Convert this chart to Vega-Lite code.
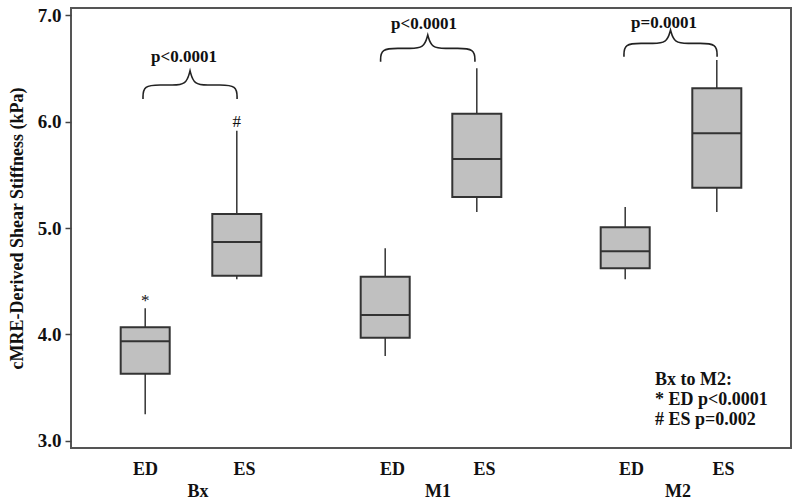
{
  "$schema": "https://vega.github.io/schema/vega-lite/v6.json",
  "width": 720,
  "height": 440,
  "autosize": {"type": "none"},
  "padding": {"left": 71, "top": 8, "right": 9, "bottom": 56},
  "background": "white",
  "config": {
    "view": {"stroke": "#555555", "strokeWidth": 2},
    "font": "Liberation Serif",
    "axis": {"labelFont": "Liberation Serif", "titleFont": "Liberation Serif", "labelFontWeight": "bold", "titleFontWeight": "bold", "labelColor": "#111111", "titleColor": "#111111", "grid": false, "domain": false}
  },
  "datasets": {
    "boxes": [
      {"group": "Bx", "phase": "ED", "min": 3.25, "q1": 3.632, "median": 3.936, "q3": 4.067, "max": 4.246},
      {"group": "Bx", "phase": "ES", "min": 4.518, "q1": 4.552, "median": 4.869, "q3": 5.131, "max": 5.914},
      {"group": "M1", "phase": "ED", "min": 3.798, "q1": 3.97, "median": 4.183, "q3": 4.543, "max": 4.809},
      {"group": "M1", "phase": "ES", "min": 5.15, "q1": 5.291, "median": 5.648, "q3": 6.073, "max": 6.5},
      {"group": "M2", "phase": "ED", "min": 4.518, "q1": 4.622, "median": 4.781, "q3": 5.007, "max": 5.197},
      {"group": "M2", "phase": "ES", "min": 5.15, "q1": 5.378, "median": 5.889, "q3": 6.312, "max": 6.577}
    ],
    "pvals": [
      {"group": "Bx", "label": "p<0.0001", "y": 6.561},
      {"group": "M1", "label": "p<0.0001", "y": 6.866},
      {"group": "M2", "label": "p=0.0001", "y": 6.881}
    ],
    "flags": [
      {"group": "Bx", "phase": "ED", "label": "*", "y": 4.263},
      {"group": "Bx", "phase": "ES", "label": "#", "y": 5.951}
    ],
    "braces": [
      {"brace": "Bx", "i": 0, "u": 0.3, "v": 6.211},
      {"brace": "Bx", "i": 1, "u": 0.3, "v": 6.343},
      {"brace": "Bx", "i": 2, "u": 0.3784, "v": 6.343},
      {"brace": "Bx", "i": 3, "u": 0.4176, "v": 6.343},
      {"brace": "Bx", "i": 4, "u": 0.4803, "v": 6.343},
      {"brace": "Bx", "i": 5, "u": 0.496, "v": 6.477},
      {"brace": "Bx", "i": 6, "u": 0.496, "v": 6.477},
      {"brace": "Bx", "i": 7, "u": 0.496, "v": 6.477},
      {"brace": "Bx", "i": 8, "u": 0.5117, "v": 6.343},
      {"brace": "Bx", "i": 9, "u": 0.5744, "v": 6.343},
      {"brace": "Bx", "i": 10, "u": 0.6136, "v": 6.343},
      {"brace": "Bx", "i": 11, "u": 0.692, "v": 6.343},
      {"brace": "Bx", "i": 12, "u": 0.692, "v": 6.211},
      {"brace": "M1", "i": 0, "u": 1.29, "v": 6.562},
      {"brace": "M1", "i": 1, "u": 1.29, "v": 6.687},
      {"brace": "M1", "i": 2, "u": 1.3686, "v": 6.687},
      {"brace": "M1", "i": 3, "u": 1.4079, "v": 6.687},
      {"brace": "M1", "i": 4, "u": 1.4708, "v": 6.687},
      {"brace": "M1", "i": 5, "u": 1.4865, "v": 6.812},
      {"brace": "M1", "i": 6, "u": 1.4865, "v": 6.812},
      {"brace": "M1", "i": 7, "u": 1.4865, "v": 6.812},
      {"brace": "M1", "i": 8, "u": 1.5022, "v": 6.687},
      {"brace": "M1", "i": 9, "u": 1.5651, "v": 6.687},
      {"brace": "M1", "i": 10, "u": 1.6044, "v": 6.687},
      {"brace": "M1", "i": 11, "u": 1.683, "v": 6.687},
      {"brace": "M1", "i": 12, "u": 1.683, "v": 6.562},
      {"brace": "M2", "i": 0, "u": 2.304, "v": 6.608},
      {"brace": "M2", "i": 1, "u": 2.304, "v": 6.734},
      {"brace": "M2", "i": 2, "u": 2.3816, "v": 6.734},
      {"brace": "M2", "i": 3, "u": 2.4204, "v": 6.734},
      {"brace": "M2", "i": 4, "u": 2.4825, "v": 6.734},
      {"brace": "M2", "i": 5, "u": 2.498, "v": 6.859},
      {"brace": "M2", "i": 6, "u": 2.498, "v": 6.859},
      {"brace": "M2", "i": 7, "u": 2.498, "v": 6.859},
      {"brace": "M2", "i": 8, "u": 2.5135, "v": 6.734},
      {"brace": "M2", "i": 9, "u": 2.5756, "v": 6.734},
      {"brace": "M2", "i": 10, "u": 2.6144, "v": 6.734},
      {"brace": "M2", "i": 11, "u": 2.692, "v": 6.734},
      {"brace": "M2", "i": 12, "u": 2.692, "v": 6.608}
    ],
    "note": [
      {"note": "Bx to M2:\n* ED p<0.0001\n# ES p=0.002"}
    ]
  },
  "layer": [
    {
      "encoding": {
        "x": {"field": "group", "type": "nominal", "sort": ["Bx", "M1", "M2"], "scale": {"paddingInner": 0, "paddingOuter": 0}, "axis": {"orient": "bottom", "title": null, "ticks": false, "labelAngle": 0, "labelFontSize": 18, "labelPadding": 34, "labelOffset": 7}}
      },
      "layer": [
        {
          "data": {"name": "boxes"},
          "mark": {"type": "rule", "color": "#333333", "strokeWidth": 1.5},
          "encoding": {
            "xOffset": {"field": "phase", "type": "nominal", "sort": ["ED", "ES"], "scale": {"paddingInner": 0.465, "paddingOuter": 0.5425}},
            "y": {"field": "min", "type": "quantitative", "scale": {"domain": [2.934, 7.066], "nice": false, "zero": false}, "axis": {"values": [3, 4, 5, 6, 7], "format": ".1f", "title": "cMRE-Derived Shear Stiffness (kPa)", "labelFontSize": 19, "titleFontSize": 18, "tickSize": 6, "tickColor": "#444444", "tickWidth": 1.5, "labelPadding": 4, "titlePadding": 11}},
            "y2": {"field": "q1"}
          }
        },
        {
          "data": {"name": "boxes"},
          "mark": {"type": "rule", "color": "#333333", "strokeWidth": 1.5},
          "encoding": {
            "xOffset": {"field": "phase", "type": "nominal", "sort": ["ED", "ES"]},
            "y": {"field": "q3", "type": "quantitative", "scale": {"domain": [2.934, 7.066], "nice": false, "zero": false}},
            "y2": {"field": "max"}
          }
        },
        {
          "data": {"name": "boxes"},
          "mark": {"type": "bar", "fill": "#c0c0c0", "stroke": "#333333", "strokeWidth": 2},
          "encoding": {
            "xOffset": {"field": "phase", "type": "nominal", "sort": ["ED", "ES"]},
            "y": {"field": "q1", "type": "quantitative", "scale": {"domain": [2.934, 7.066], "nice": false, "zero": false}},
            "y2": {"field": "q3"}
          }
        },
        {
          "data": {"name": "boxes"},
          "mark": {"type": "bar", "fill": "#333333", "stroke": "#333333", "strokeWidth": 2},
          "encoding": {
            "xOffset": {"field": "phase", "type": "nominal", "sort": ["ED", "ES"]},
            "y": {"field": "median", "type": "quantitative", "scale": {"domain": [2.934, 7.066], "nice": false, "zero": false}},
            "y2": {"field": "median"}
          }
        },
        {
          "data": {"name": "flags"},
          "mark": {"type": "text", "fontSize": 17, "fontWeight": "normal", "baseline": "alphabetic", "color": "#111111", "font": "Liberation Serif"},
          "encoding": {
            "xOffset": {"field": "phase", "type": "nominal", "sort": ["ED", "ES"]},
            "y": {"field": "y", "type": "quantitative", "scale": {"domain": [2.934, 7.066], "nice": false, "zero": false}},
            "text": {"field": "label"}
          }
        },
        {
          "data": {"name": "pvals"},
          "mark": {"type": "text", "fontSize": 17, "fontWeight": "bold", "baseline": "alphabetic", "dx": -7, "color": "#111111", "font": "Liberation Serif"},
          "encoding": {
            "y": {"field": "y", "type": "quantitative", "scale": {"domain": [2.934, 7.066], "nice": false, "zero": false}},
            "text": {"field": "label"}
          }
        }
      ]
    },
    {
      "layer": [
        {
          "data": {"name": "braces"},
          "mark": {"type": "line", "interpolate": "basis", "color": "#222222", "strokeWidth": 1.6},
          "encoding": {
            "x": {"field": "u", "type": "quantitative", "scale": {"domain": [0, 3], "nice": false, "zero": false}, "axis": {"orient": "bottom", "values": [0.3083, 0.7208, 1.3375, 1.7208, 2.3333, 2.7167], "labelExpr": "(datum.value % 1) < 0.5 ? 'ED' : 'ES'", "ticks": false, "title": null, "labelFontSize": 18, "labelPadding": 12, "labelFlush": false, "labelOverlap": false}},
            "y": {"field": "v", "type": "quantitative", "scale": {"domain": [2.934, 7.066], "nice": false, "zero": false}},
            "detail": {"field": "brace"},
            "order": {"field": "i"}
          }
        },
        {
          "data": {"name": "note"},
          "mark": {"type": "text", "align": "left", "baseline": "alphabetic", "lineBreak": "\n", "lineHeight": 20, "fontSize": 18, "fontWeight": "bold", "color": "#111111", "font": "Liberation Serif"},
          "encoding": {
            "x": {"datum": 2.433},
            "y": {"datum": 3.526},
            "text": {"field": "note"}
          }
        }
      ]
    }
  ],
  "resolve": {"scale": {"x": "independent"}, "axis": {"x": "independent"}}
}
